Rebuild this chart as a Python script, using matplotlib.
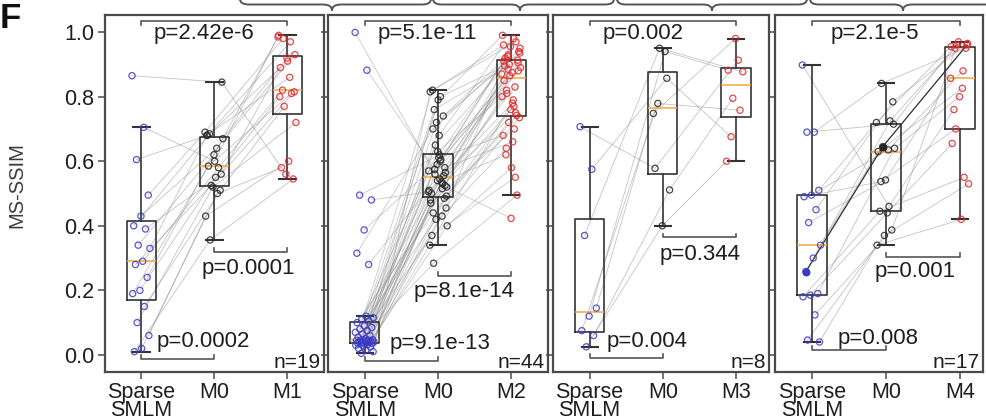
import numpy as np
import matplotlib
matplotlib.use("Agg")
import matplotlib.pyplot as plt
from matplotlib.path import Path
from matplotlib.patches import PathPatch

plt.rcParams['font.family'] = ['Liberation Sans', 'DejaVu Sans']

# ---------------- data (paired order) ----------------
groups_1 = ["Sparse\nSMLM", "M0", "M1"]
sparse_1 = [0.865, 0.705, 0.605, 0.495, 0.43, 0.40, 0.39, 0.34, 0.33, 0.29, 0.28, 0.24, 0.20, 0.19, 0.15, 0.10, 0.06, 0.02, 0.01]
m0_1 = [0.845, 0.60, 0.68, 0.69, 0.64, 0.685, 0.56, 0.62, 0.68, 0.58, 0.525, 0.67, 0.55, 0.585, 0.51, 0.52, 0.43, 0.50, 0.356]
mk_1 = [0.56, 0.99, 0.97, 0.98, 0.93, 0.91, 0.89, 0.985, 0.86, 0.82, 0.815, 0.92, 0.80, 0.81, 0.77, 0.72, 0.60, 0.58, 0.545]

groups_2 = ["Sparse\nSMLM", "M0", "M2"]
sparse_2 = [0.999, 0.882, 0.495, 0.48, 0.387, 0.315, 0.28,
            0.005, 0.01, 0.015, 0.02, 0.025, 0.028, 0.03, 0.032, 0.034, 0.035, 0.036, 0.037, 0.038,
            0.039, 0.04, 0.041, 0.042, 0.043, 0.044, 0.045, 0.046, 0.046, 0.047, 0.05, 0.055, 0.06,
            0.065, 0.07, 0.075, 0.08, 0.085, 0.09, 0.1, 0.105, 0.11, 0.115, 0.12]
m0_2 = [0.56, 0.52, 0.62, 0.505, 0.60, 0.70, 0.58,
        0.54, 0.815, 0.43, 0.575, 0.492, 0.68, 0.37, 0.555, 0.72, 0.51, 0.605, 0.284, 0.565,
        0.79, 0.47, 0.53, 0.65, 0.40, 0.545, 0.82, 0.485, 0.59, 0.34, 0.535, 0.76, 0.455,
        0.61, 0.50, 0.74, 0.42, 0.57, 0.80, 0.44, 0.525, 0.63, 0.48, 0.515]
mk_2 = [0.88, 0.423, 0.91, 0.75, 0.93, 0.95, 0.66,
        0.87, 0.98, 0.64, 0.905, 0.76, 0.96, 0.55, 0.885, 0.935, 0.78, 0.92, 0.495, 0.865,
        0.99, 0.70, 0.81, 0.94, 0.58, 0.85, 0.97, 0.72, 0.89, 0.79, 0.62, 0.913, 0.955,
        0.68, 0.83, 0.925, 0.735, 0.875, 0.895, 0.742, 0.90, 0.80, 0.77, 0.82]

groups_3 = ["Sparse\nSMLM", "M0", "M3"]
sparse_3 = [0.707, 0.575, 0.37, 0.145, 0.12, 0.075, 0.06, 0.025]
m0_3 = [0.578, 0.857, 0.95, 0.748, 0.94, 0.779, 0.511, 0.40]
mk_3 = [0.913, 0.676, 0.877, 0.98, 0.882, 0.758, 0.795, 0.60]

groups_4 = ["Sparse\nSMLM", "M0", "M4"]
sparse_4 = [0.898, 0.69, 0.69, 0.51, 0.495, 0.49, 0.45, 0.41, 0.34, 0.30, 0.258, 0.19, 0.185, 0.18, 0.124, 0.046, 0.04]
m0_4 = [0.46, 0.841, 0.715, 0.72, 0.635, 0.537, 0.784, 0.542, 0.63, 0.725, 0.645, 0.64, 0.44, 0.445, 0.387, 0.37, 0.34]
mk_4 = [0.76, 0.95, 0.97, 0.955, 0.88, 0.70, 0.965, 0.857, 0.826, 0.95, 0.96, 0.80, 0.655, 0.55, 0.96, 0.53, 0.42]

# p-value labels: (top: 1 vs 3, middle: 2 vs 3, bottom: 1 vs 2)
p_top = ["p=2.42e-6", "p=5.1e-11", "p=0.002", "p=2.1e-5"]
p_mid = ["p=0.0001", "p=8.1e-14", "p=0.344", "p=0.001"]
p_bot = ["p=0.0002", "p=9.1e-13", "p=0.004", "p=0.008"]
n_labels = ["n=19", "n=44", "n=8", "n=17"]

# ---------------- layout / style ----------------
W, H = 987, 419
fig = plt.figure(figsize=(W / 100, H / 100), dpi=100)

top_px, bot_px = 15, 372
panels_px = [(105, 219, 3.5), (328, 220, 3.5), (553, 216, 3.45), (775, 208, 3.31)]

mid_y = [0.32, 0.245, 0.364, 0.304]
bot_y = [-0.012, -0.02, -0.01, 0.015]
top_tx = [1.85, 1.86, 1.73, 1.85]
mid_tx = [(2.46, 0.268), (2.35, 0.196), (2.51, 0.31), (2.39, 0.258)]
bot_tx = [(1.84, 0.041), (2.03, 0.036), (1.79, 0.041), (1.89, 0.052)]
highlight = [None, None, None, 10]

col_sparse = '#3a3ac8'
col_m0 = '#252525'
col_mk = '#e02828'
box_col = '#333333'
txt_col = '#1e1e1e'

datasets = [
    (groups_1, sparse_1, m0_1, mk_1),
    (groups_2, sparse_2, m0_2, mk_2),
    (groups_3, sparse_3, m0_3, mk_3),
    (groups_4, sparse_4, m0_4, mk_4),
]

FS = 15.5
FSP = 16

for k, ((groups, s, m0, mk), (lx, wx, xr)) in enumerate(zip(datasets, panels_px)):
    ax = fig.add_axes([lx / W, 1 - bot_px / H, wx / W, (bot_px - top_px) / H])
    ax.set_xlim(0.5, xr)
    ax.set_ylim(-0.053, 1.053)
    s = np.asarray(s); m0 = np.asarray(m0); mk = np.asarray(mk)
    n = len(s)
    idx = np.arange(n)
    jit = (((idx * 0.618034) % 1.0) - 0.5) * 0.26
    xs = 1 + jit
    x0 = 2 + np.roll(jit, 3)
    xk = 3 + np.roll(jit, 7)

    # paired lines
    la = 0.5 if n < 30 else 0.45
    for i in range(n):
        ax.plot([xs[i], x0[i], xk[i]], [s[i], m0[i], mk[i]], color='#8a8a8a',
                lw=0.6, alpha=la, zorder=1)
    if highlight[k] is not None:
        i = highlight[k]
        ax.plot([xs[i], x0[i], xk[i]], [s[i], m0[i], mk[i]], color='#333333',
                lw=0.9, zorder=2)

    # box plots
    ax.boxplot([s, m0, mk], positions=[1, 2, 3], widths=0.4, showfliers=False,
               patch_artist=False, whis=1.5, manage_ticks=False,
               boxprops=dict(color=box_col, lw=1.2),
               whiskerprops=dict(color=box_col, lw=1.2),
               capprops=dict(color=box_col, lw=1.5),
               capwidths=0.22,
               medianprops=dict(color='#f2a540', lw=1.1),
               zorder=3)

    # points
    for xx, yy, c in [(xs, s, col_sparse), (x0, m0, col_m0), (xk, mk, col_mk)]:
        ax.scatter(xx, yy, s=20, facecolors='none', edgecolors=c, linewidths=0.9,
                   alpha=0.85, zorder=4)
    if highlight[k] is not None:
        i = highlight[k]
        ax.scatter([xs[i]], [s[i]], s=22, color=col_sparse, zorder=5)
        ax.scatter([x0[i]], [m0[i]], s=22, color=col_m0, zorder=5)

    # brackets
    bc = '#555555'
    yt = 1.034
    ax.plot([1, 1, 3, 3], [yt - 0.012, yt, yt, yt - 0.012], color=bc, lw=1.2, zorder=5, clip_on=False)
    ax.text(top_tx[k], 0.997, p_top[k], ha='center', va='center', fontsize=FSP, color=txt_col, zorder=6)
    ym = mid_y[k]
    ax.plot([2, 2, 3, 3], [ym + 0.012, ym, ym, ym + 0.012], color=bc, lw=1.2, zorder=5)
    ax.text(mid_tx[k][0], mid_tx[k][1], p_mid[k], ha='center', va='center', fontsize=FSP, color=txt_col, zorder=6)
    yb = bot_y[k]
    ax.plot([1, 1, 2, 2], [yb + 0.012, yb, yb, yb + 0.012], color=bc, lw=1.2, zorder=5)
    ax.text(bot_tx[k][0], bot_tx[k][1], p_bot[k], ha='center', va='center', fontsize=FSP, color=txt_col, zorder=6)
    ax.text(0.985, 0.0, n_labels[k], transform=ax.transAxes, ha='right', va='bottom',
            fontsize=FS - 0.5, color=txt_col, zorder=6)

    # axes styling
    for sp in ax.spines.values():
        sp.set_color('#4a4a4a')
        sp.set_linewidth(1.6)
    ax.set_xticks([1, 2, 3])
    ax.set_xticklabels(groups, fontsize=FS, color=txt_col, linespacing=0.8)
    ax.set_yticks([0, 0.2, 0.4, 0.6, 0.8, 1.0])
    ax.tick_params(axis='both', direction='out', length=5, width=1.1, color='#4a4a4a')
    ax.tick_params(axis='x', pad=2)
    if k == 0:
        ax.set_yticklabels(["0.0", "0.2", "0.4", "0.6", "0.8", "1.0"], fontsize=FS, color=txt_col)
        ax.tick_params(axis='y', pad=3)
    else:
        ax.set_yticklabels([])

# y label
fig.text(17 / W, 1 - 185 / H, "MS-SSIM", rotation=90, ha='center', va='center',
         fontsize=14.5, color='#3c3c3c')
# panel letter
fig.text(0.0, 1 - 2 / H, "F", ha='left', va='top', fontsize=25, fontweight='bold', color='#111111')

# braces at the top (partial, from upper figure)
def brace(x0, tip, x1, yl=4.5, yt=10.5, r=9):
    P = lambda x, y: (x / W, 1 - y / H)
    verts = [P(x0, -1), P(x0, yl), P(x0 + r, yl),
             P(tip - r, yl), P(tip, yl), P(tip, yt),
             P(tip, yl), P(tip + r, yl),
             P(x1 - r, yl), P(x1, yl), P(x1, -1)]
    codes = [Path.MOVETO, Path.CURVE3, Path.CURVE3,
             Path.LINETO, Path.CURVE3, Path.CURVE3,
             Path.CURVE3, Path.CURVE3,
             Path.LINETO, Path.CURVE3, Path.CURVE3]
    fig.patches.append(PathPatch(Path(verts, codes), transform=fig.transFigure,
                                 fill=False, edgecolor='#555555', lw=1.4))

brace(240, 332, 431)
brace(433, 520, 614)
brace(617, 712, 807)
brace(810, 903, 1000)

fig.savefig("out.png", dpi=100)
